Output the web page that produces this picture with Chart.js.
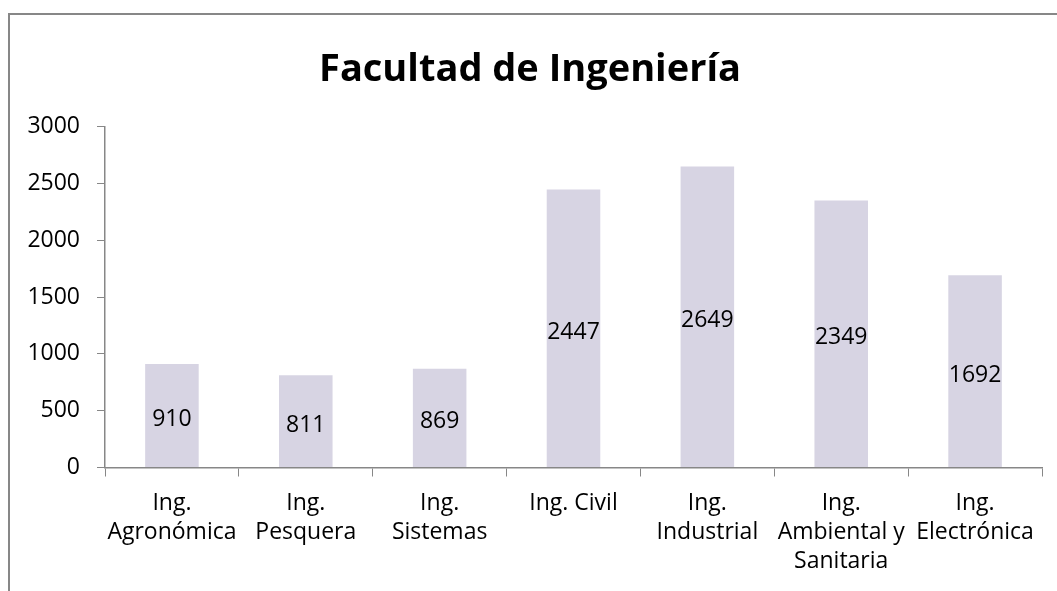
<!DOCTYPE html>
<html>
<head>
<meta charset="utf-8">
<script src="https://cdn.jsdelivr.net/npm/chart.js@4"></script>
<style>
  html, body { margin: 0; padding: 0; background: #fff; overflow: hidden; }
  #wrap { position: relative; width: 1057px; height: 591px; }
  #frame { position: absolute; left: 8px; top: 13px; width: 1200px; height: 800px; border: 2px solid #878787; }
  canvas { position: absolute; left: 0; top: 0; }
</style>
</head>
<body>
<div id="wrap">
  <div id="frame"></div>
  <canvas id="chart" width="1057" height="591"></canvas>
</div>
<script>
// Chart data
const categories = [
    ['Ing.', 'Agronómica'],
    ['Ing.', 'Pesquera'],
    ['Ing.', 'Sistemas'],
    ['Ing. Civil'],
    ['Ing.', 'Industrial'],
    ['Ing.', 'Ambiental y', 'Sanitaria'],
    ['Ing.', 'Electrónica']
];
const students = [910, 811, 869, 2447, 2649, 2349, 1692];
const yTicks = [0, 500, 1000, 1500, 2000, 2500, 3000];

const chartTitle = 'Facultad de Ingeniería';
const fontFamily = "'Open Sans', sans-serif";

// Draw value labels in the middle of each bar
const barLabels = {
    id: 'barLabels',
    afterDatasetsDraw(chart) {
        const ctx = chart.ctx;
        const meta = chart.getDatasetMeta(0);
        ctx.save();
        ctx.font = `23px ${fontFamily}`;
        ctx.fillStyle = '#000';
        ctx.textAlign = 'center';
        ctx.textBaseline = 'middle';
        meta.data.forEach((bar, i) => {
            const mid = (bar.y + bar.base) / 2;
            ctx.fillText(String(students[i]), bar.x, mid + 4);
        });
        ctx.restore();
    }
};

new Chart(document.getElementById('chart').getContext('2d'), {
    type: 'bar',
    data: {
        labels: categories,
        datasets: [{
            data: students,
            backgroundColor: '#d7d4e3',
            borderWidth: 0,
            barPercentage: 0.8,
            categoryPercentage: 0.5
        }]
    },
    options: {
        responsive: false,
        animation: false,
        layout: { padding: { left: 18, right: 15, top: 0, bottom: 0 } },
        plugins: {
            legend: { display: false },
            tooltip: { enabled: false },
            title: {
                display: true,
                text: chartTitle,
                color: '#000',
                font: { family: fontFamily, size: 38, weight: 'bold', lineHeight: 1.2 },
                padding: { top: 47, bottom: 34 }
            }
        },
        scales: {
            y: {
                min: 0,
                max: 3000,
                afterBuildTicks(scale) {
                    scale.ticks = yTicks.map(v => ({ value: v }));
                },
                afterFit(scale) { scale.width = 87; },
                grid: { drawOnChartArea: false, tickLength: 8, color: '#878787' },
                border: { color: '#878787', width: 1.5 },
                ticks: {
                    color: '#000',
                    padding: 17,
                    font: { family: fontFamily, size: 23 },
                    callback: v => String(v)
                }
            },
            x: {
                afterFit(scale) { scale.height = 123.5; },
                grid: { drawOnChartArea: false, tickLength: 9, color: '#878787', offset: true },
                border: { color: '#878787', width: 1.5 },
                ticks: {
                    color: '#000',
                    padding: 13,
                    maxRotation: 0,
                    autoSkip: false,
                    font: { family: fontFamily, size: 23, lineHeight: 1.25 }
                }
            }
        }
    },
    plugins: [barLabels]
});
</script>
</body>
</html>
